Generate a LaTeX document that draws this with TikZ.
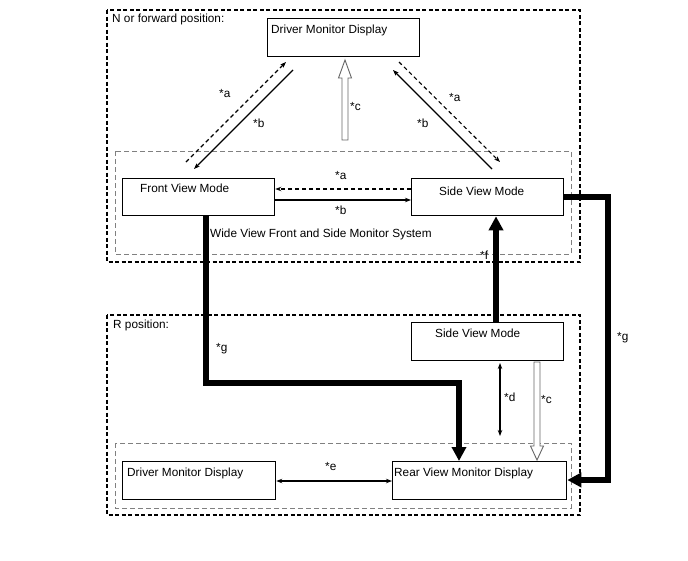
\documentclass[tikz,border=0pt]{standalone}
\usepackage{fontspec}
\setmainfont{Liberation Sans}
\usetikzlibrary{arrows.meta,calc}
\begin{document}
\begin{tikzpicture}[x=1pt,y=-1pt,
  font=\fontsize{11.8}{13}\selectfont,
  boxnode/.style={draw,line width=1.3pt,anchor=north west,inner sep=0pt},
  txt/.style={anchor=west,inner sep=0pt},
  outerbox/.style={draw,line width=1.3pt,dash pattern=on 4pt off 2.5pt},
  innerbox/.style={draw,gray,line width=0.9pt,dash pattern=on 5pt off 3pt},
  thin/.style={line width=1.1pt,-{Stealth[length=6pt,width=4.5pt]}},
  thindash/.style={thin,dash pattern=on 4pt off 3pt},
  thick/.style={line width=5.5pt,-{Triangle[length=14pt,width=14pt]}},
  hollow/.style={draw=gray!80!black,fill=white,line width=0.9pt}]
\useasboundingbox (0,0) rectangle (688,560);
% frames
\draw[outerbox] (107,10) rectangle (580,262);
\draw[innerbox] (115,151) rectangle (571,254);
\draw[outerbox] (107,315) rectangle (580,515);
\draw[innerbox] (115,443) rectangle (571,508);
\node[txt] (nfwd) at (112,19) {N or forward position:};
\node[txt] (rpos) at (113,325) {R position:};
\node[txt] (wide) at (210,234) {Wide View Front and Side Monitor System};
% boxes
\node[boxnode,minimum width=152pt,minimum height=38pt] (dmd1) at (267,18) {};
\node[boxnode,minimum width=152pt,minimum height=37pt] (fvm) at (122,178) {};
\node[boxnode,minimum width=152pt,minimum height=37pt] (svm1) at (411,178) {};
\node[boxnode,minimum width=152pt,minimum height=38pt] (svm2) at (411,322) {};
\node[boxnode,minimum width=153pt,minimum height=38pt] (dmd2) at (122,461) {};
\node[boxnode,minimum width=174pt,minimum height=38pt] (rvm) at (392,461) {};
\node[txt] (tdmd1) at (271,30) {Driver Monitor Display};
\node[txt] (tfvm) at (140,188) {Front View Mode};
\node[txt] (tsvm1) at (439,191) {Side View Mode};
\node[txt] (tsvm2) at (435,333) {Side View Mode};
\node[txt] (tdmd2) at (127,473) {Driver Monitor Display};
\node[txt] (trvm) at (394,473) {Rear View Monitor Display};
% diagonal endpoints
\coordinate (la1) at (186,162); \coordinate (la2) at (286,62);
\coordinate (lb1) at (293,70);  \coordinate (lb2) at (194,169);
\coordinate (rb1) at (492,169); \coordinate (rb2) at (393,70);
\coordinate (ra1) at (399,62);  \coordinate (ra2) at (500,162);
\draw[thindash] (la1) -- (la2);
\draw[thin] (lb1) -- (lb2);
\draw[thin] (rb1) -- (rb2);
\draw[thindash] (ra1) -- (ra2);
% horizontal a/b
\draw[thindash] ($(svm1.north west)+(0,11)$) -- ($(fvm.north east)+(0,11)$);
\draw[thin] ($(fvm.north east)+(0,22)$) -- ($(svm1.north west)+(0,22)$);
% hollow up arrow *c
\coordinate (cu) at (345,60);
\filldraw[hollow] (cu) -- ++(6.5,18) -- ++(-3.5,0) -- ++(0,62) -- ++(-6,0) -- ++(0,-62) -- ++(-3.5,0) -- cycle;
% hollow down arrow *c
\coordinate (cd) at (537,460);
\filldraw[hollow] (cd) -- ++(6.5,-14) -- ++(-3.5,0) -- ++(0,-84) -- ++(-6,0) -- ++(0,84) -- ++(-3.5,0) -- cycle;
% thick arrows
\draw[thick] (fvm.south -| 206,0) |- (459,383) -- (rvm.north -| 459,0);
\draw[thick] (svm1.east |- 0,197) -- (608,197) |- (rvm.east |- 0,480);
\draw[thick] (svm2.north -| 496,0) -- (svm1.south -| 496,0);
% d and e
\coordinate (d1) at (500,363); \coordinate (d2) at (500,436);
\draw[line width=1.1pt,{Stealth[length=6pt,width=4.5pt]}-{Stealth[length=6pt,width=4.5pt]}] (d1) -- (d2);
\draw[line width=1.1pt,{Stealth[length=6pt,width=4.5pt]}-{Stealth[length=6pt,width=4.5pt]}] (dmd2.east |- 0,481) -- (rvm.west |- 0,481);
% labels
\node[txt] (la) at (219,93) {*a};
\node[txt] (lb) at (253,123) {*b};
\node[txt] (lc) at (350,106) {*c};
\node[txt] (ra) at (449,97) {*a};
\node[txt] (rb) at (417,123) {*b};
\node[txt] (ma) at (335,175) {*a};
\node[txt] (mb) at (335,210) {*b};
\node[txt] (lf) at (480,255) {*f};
\node[txt] (lg) at (216,349) {*g};
\node[txt] (rg) at (617,338) {*g};
\node[txt] (ld) at (504,397) {*d};
\node[txt] (lc2) at (541,399) {*c};
\node[txt] (le) at (325,466) {*e};
\end{tikzpicture}
\end{document}
